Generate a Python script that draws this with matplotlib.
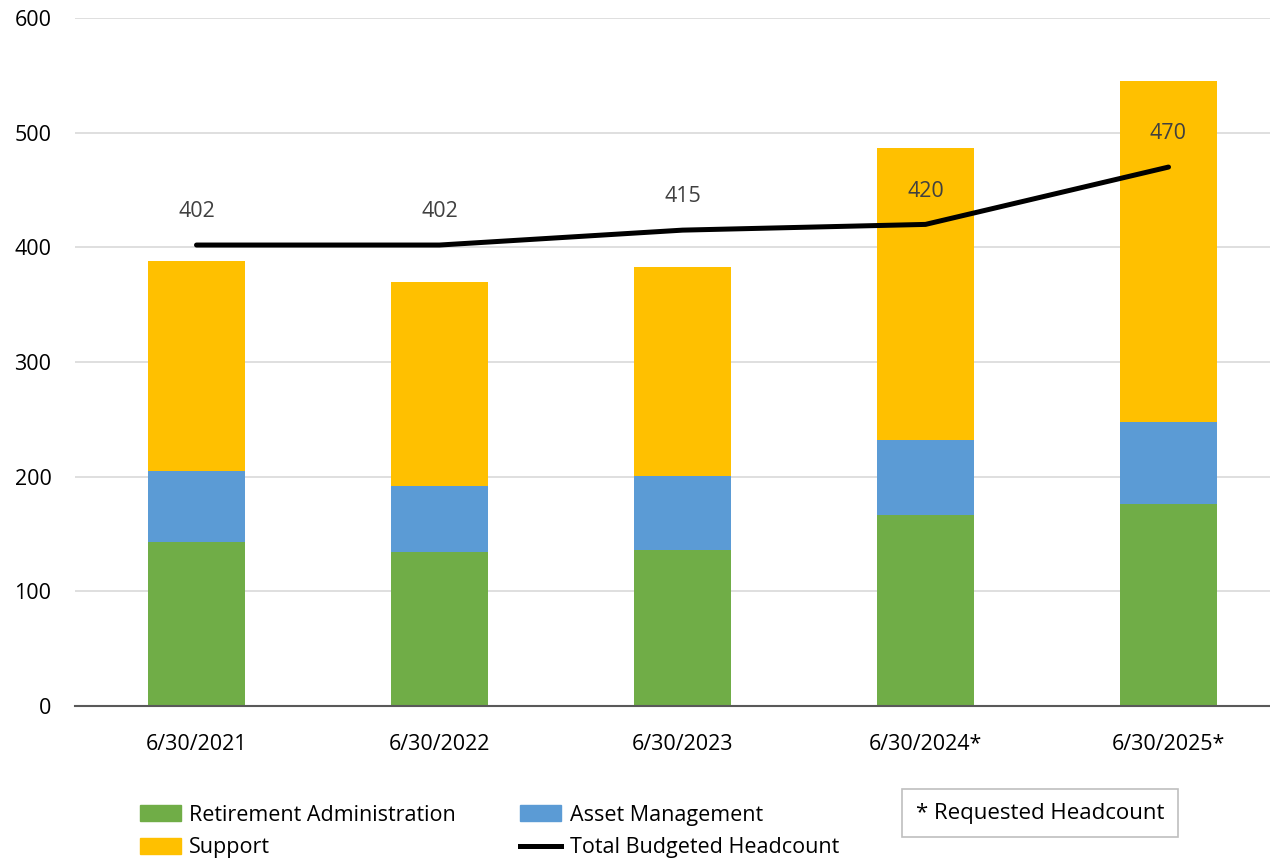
import numpy as np
import matplotlib.pyplot as plt
from matplotlib.patches import Patch
from matplotlib.lines import Line2D

plt.rcParams['font.family'] = ['Open Sans', 'DejaVu Sans']

dates = ["6/30/2021", "6/30/2022", "6/30/2023", "6/30/2024*", "6/30/2025*"]
retirement = [143, 134, 136, 167, 176]
asset_mgmt = [62, 58, 65, 65, 72]
support = [183, 178, 182, 255, 297]
total_budgeted = [402, 402, 415, 420, 470]

green = "#70AD47"
blue = "#5B9BD5"
yellow = "#FFC000"

fig = plt.figure(figsize=[12.7, 8.59], dpi=100)
ax = fig.add_axes([75 / 1270, 153 / 859, 1215 / 1270, 688 / 859])

x = np.arange(len(dates))
w = 0.4
ret = np.array(retirement)
am = np.array(asset_mgmt)
sup = np.array(support)
ax.bar(x, ret, w, color=green, zorder=2)
ax.bar(x, am, w, bottom=ret, color=blue, zorder=2)
ax.bar(x, sup, w, bottom=ret + am, color=yellow, zorder=2)
ax.plot(x, total_budgeted, color="black", lw=3.6, solid_capstyle="round", zorder=3)
for xi, v in zip(x, total_budgeted):
    ax.annotate(str(v), (xi, v), xytext=(0, 24), textcoords="offset points",
                ha="center", va="center", fontsize=15.5, color="#404040", zorder=4)

ax.set_xlim(-0.5, 4.5)
ax.set_ylim(0, 600)
ax.set_yticks(range(0, 601, 100))
ax.set_xticks(x)
ax.set_xticklabels(dates)
ax.tick_params(axis="both", length=0, labelsize=15.5, colors="black")
ax.tick_params(axis="x", pad=20)
ax.tick_params(axis="y", pad=17)
ax.grid(axis="y", color="#d9d9d9", lw=1.2, zorder=0)
for s in ["left", "right", "top"]:
    ax.spines[s].set_visible(False)
ax.spines["bottom"].set_color("#595959")
ax.spines["bottom"].set_linewidth(1.5)
ax.spines["bottom"].set_zorder(4)

handles = [Patch(color=green), Patch(color=yellow), Patch(color=blue),
           Line2D([0], [0], color="black", lw=3.6)]
labels = ["Retirement Administration", "Support", "Asset Management",
          "Total Budgeted Headcount"]
fig.legend(handles, labels, ncol=2, loc="upper left",
           bbox_to_anchor=(131 / 1270, 1 - 796 / 859), frameon=False,
           fontsize=15.5, handlelength=1.9, handleheight=0.75, handletextpad=0.4,
           columnspacing=3.0, labelspacing=0.55, borderaxespad=0)

fig.text(1040 / 1270, 1 - 813 / 859, "* Requested Headcount", fontsize=16,
         ha="center", va="center",
         bbox=dict(boxstyle="square,pad=0.6", fc="white", ec="#bfbfbf", lw=1.2))

fig.savefig("out.png", dpi=100)
